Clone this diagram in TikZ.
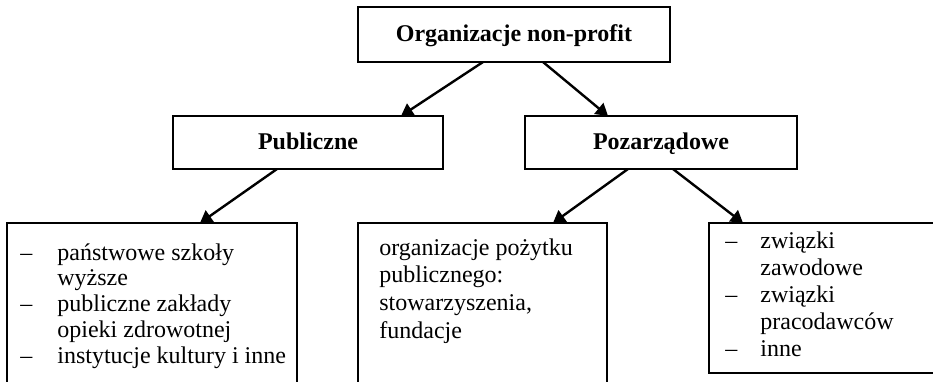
\documentclass[tikz,border=0pt]{standalone}
\usepackage{fontspec}
\setmainfont{Liberation Serif}
\usetikzlibrary{arrows.meta}
\begin{document}
\begin{tikzpicture}[x=0.5pt,y=-0.5pt,box/.style={shape=rectangle,draw=black,line width=1.2pt,inner sep=0pt,outer sep=0pt},boxB/.style={box,font=\fontsize{12}{14}\selectfont\bfseries,text height=8pt,text depth=1pt},txt/.style={anchor=base west,inner sep=0pt},arr/.style={line width=1.2pt,-{Triangle[length=6pt,width=7pt]}}]
\def\hB{26.5pt};
\def\hL{86pt};

\path[use as bounding box,clip] (0,0) rectangle (933,381);

\node[boxB,minimum width=156pt,minimum height=27.5pt] (O) at (514,34.5) {Organizacje non-profit};

\node[boxB,minimum width=135pt,minimum height=\hB] (P) at (308,142.5) {Publiczne};
\draw[arr] ([xshift=-15.5pt]O.south) -- ([xshift=46.5pt]P.north);
\node[boxB,minimum width=136pt,minimum height=\hB] (N) at (661,142.5) {Pozarządowe};
\draw[arr] ([xshift=14.5pt]O.south) -- ([xshift=-26.5pt]N.north);

\node[box,minimum width=145pt,minimum height=\hL] (P1) at (152,309) {};
\node[txt,font=\fontsize{12}{12.9}\selectfont] (P1t) at ([xshift=6.5pt,yshift=-18.5pt]P1.north west) {\begin{tabular}[t]{@{}p{18.5pt}@{}l@{}}– & państwowe szkoły\\ & wyższe\\ – & publiczne zakłady\\ & opieki zdrowotnej\\ – & instytucje kultury i inne\end{tabular}};
\draw[arr] ([xshift=-15.5pt]P.south) -- ([xshift=24pt]P1.north);

\node[box,minimum width=124.5pt,minimum height=\hL] (N1) at (482.5,309) {};
\node[txt,font=\fontsize{12}{13.9}\selectfont] (N1t) at ([xshift=10.5pt,yshift=-16pt]N1.north west) {\begin{tabular}[t]{@{}l@{}}organizacje pożytku\\ publicznego:\\ stowarzyszenia,\\ fundacje\end{tabular}};
\draw[arr] ([xshift=-16.5pt]N.south) -- ([xshift=35.25pt]N1.north);

\node[box,minimum width=118pt,minimum height=75pt] (N2) at (827,298) {};
\node[txt,font=\fontsize{12}{13.5}\selectfont] (N2t) at ([xshift=8pt,yshift=-12.5pt]N2.north west) {\begin{tabular}[t]{@{}p{17.5pt}@{}l@{}}– & związki\\ & zawodowe\\ – & związki\\ & pracodawców\\ – & inne\end{tabular}};
\draw[arr] ([xshift=6pt]N.south) -- ([xshift=-42pt]N2.north);
\end{tikzpicture}
\end{document}
